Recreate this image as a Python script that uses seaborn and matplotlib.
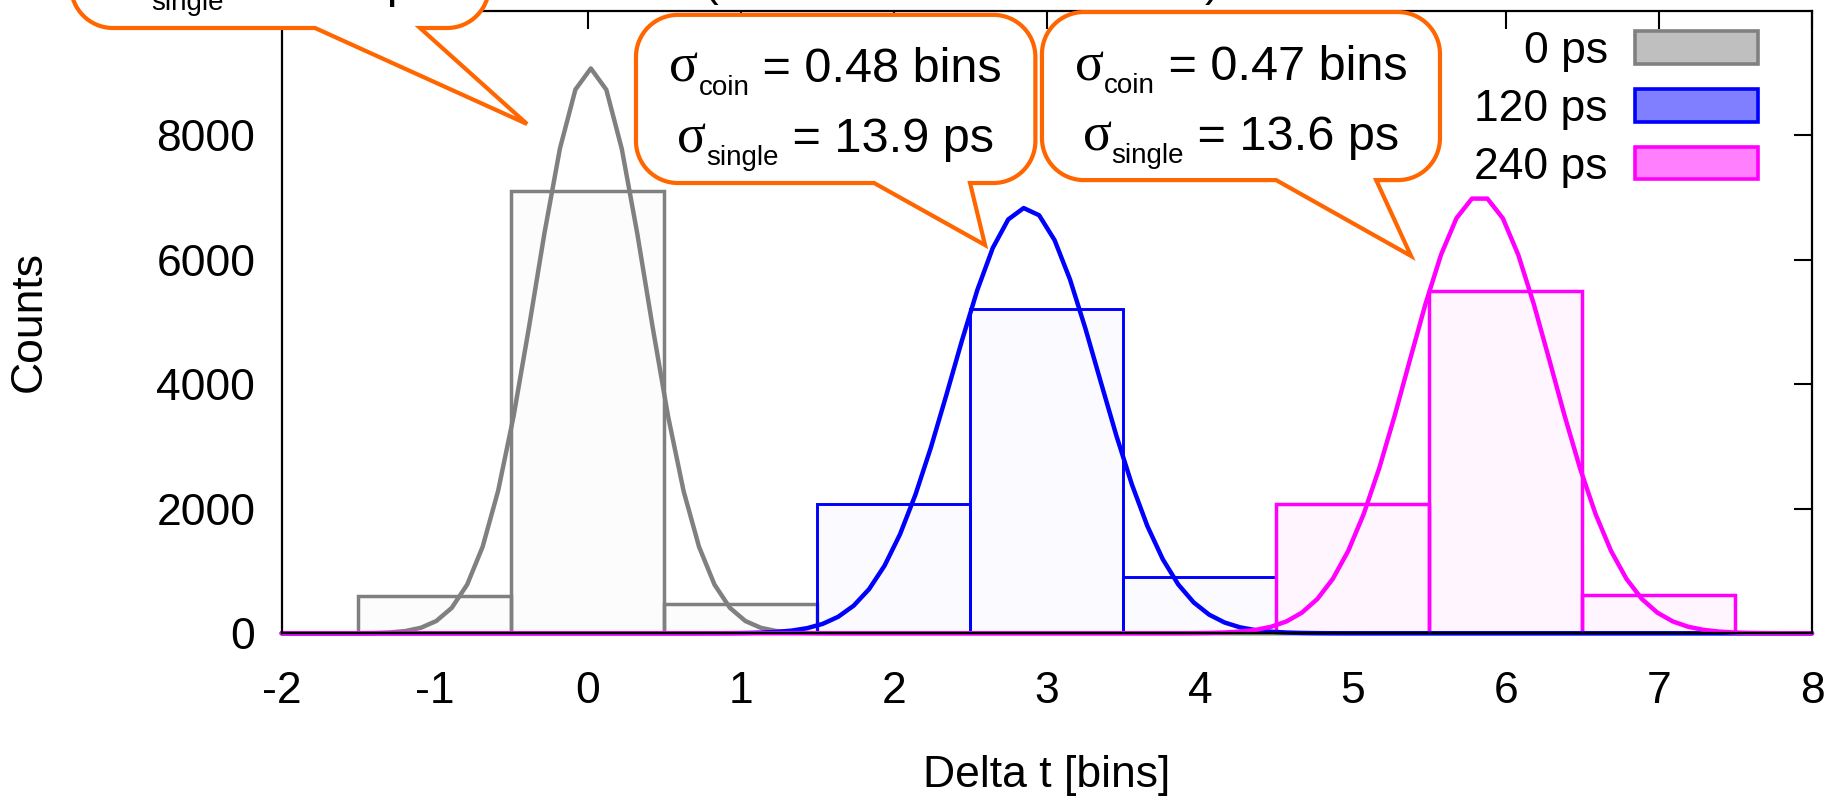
import numpy as np
import pandas as pd
import matplotlib
matplotlib.use("Agg")
import matplotlib.pyplot as plt
import seaborn as sns
from matplotlib.path import Path
from matplotlib.patches import PathPatch, Patch
from matplotlib.transforms import IdentityTransform

# ---------------- data ----------------
series_labels = ["0 ps", "120 ps", "240 ps"]
bin_centers_0ps = [-1, 0, 1]
counts_0ps = [600, 7100, 470]
bin_centers_120ps = [2, 3, 4]
counts_120ps = [2080, 5200, 900]
bin_centers_240ps = [5, 6, 7]
counts_240ps = [2080, 5500, 620]

# Gaussian fit parameters (amplitude, mean [bins], sigma [bins])
fit_amplitude = [9070, 6830, 7020]
fit_mean = [0.02, 2.86, 5.828]
fit_sigma_coin = [0.365, 0.48, 0.47]
fit_sigma_single_ps = [10.6, 13.9, 13.6]

x_ticks = [-2, -1, 0, 1, 2, 3, 4, 5, 6, 7, 8]
y_ticks = [0, 2000, 4000, 6000, 8000]

# ---------------- style ----------------
sns.set_theme(style="white")
plt.rcParams["font.family"] = ["Liberation Sans", "DejaVu Sans"]
plt.rcParams["text.color"] = "black"
plt.rcParams["axes.labelcolor"] = "black"
plt.rcParams["xtick.color"] = "black"
plt.rcParams["ytick.color"] = "black"

colors = ["#808080", "#0000ff", "#ff00ff"]
orange = "#ff6600"
FS = 32

fig = plt.figure(figsize=(18.44, 7.98), dpi=100)
ax = fig.add_axes([0.15277, 0.20639, 0.82988, 0.78045])

centers_list = [bin_centers_0ps, bin_centers_120ps, bin_centers_240ps]
counts_list = [counts_0ps, counts_120ps, counts_240ps]
bar_lw = [2.5, 2.1, 2.5]
bar_alpha = [0.02, 0.015, 0.04]

for centers, counts, col, lw, al in zip(centers_list, counts_list, colors, bar_lw, bar_alpha):
    edges = [c - 0.5 for c in centers] + [centers[-1] + 0.5]
    sns.histplot(x=centers, weights=counts, bins=edges, ax=ax,
                 facecolor=matplotlib.colors.to_rgba(col, al),
                 edgecolor=col, linewidth=lw, zorder=2)

xs = np.linspace(-2, 8, 100)
for A, mu, sg, col in zip(fit_amplitude, fit_mean, fit_sigma_coin, colors):
    ys = A * np.exp(-(xs - mu) ** 2 / (2 * sg ** 2))
    df = pd.DataFrame({"x": xs, "y": ys})
    sns.lineplot(data=df, x="x", y="y", ax=ax, color=col, linewidth=3.2,
                 sort=False, zorder=3, clip_on=False)

ax.set_xlim(-2, 8)
ax.set_ylim(0, 10000)
ax.set_xticks(x_ticks)
ax.set_xticklabels([str(t) for t in x_ticks])
ax.set_yticks(y_ticks)
ax.set_yticklabels([str(t) for t in y_ticks])
ax.tick_params(axis="both", direction="in", length=13, width=1.5,
               top=True, right=True, labelsize=FS, colors="black")
ax.tick_params(axis="x", pad=27)
ax.tick_params(axis="y", pad=19)
for s in ax.spines.values():
    s.set_visible(True)
    s.set_color("black")
    s.set_linewidth(1.6)
    s.set_zorder(4)

ax.set_xlabel("Delta t [bins]", fontsize=FS)
ax.set_ylabel("Counts", fontsize=FS)
ax.xaxis.set_label_coords(0.5, -0.229)
ax.xaxis.label.set_va("center")
ax.yaxis.set_label_coords(-0.165, 0.5)
ax.yaxis.label.set_va("center")

# ---------------- legend ----------------
handles = [Patch(facecolor=matplotlib.colors.to_rgba(c, 0.5), edgecolor=c,
                 linewidth=2.6, label=l) for c, l in zip(colors, series_labels)]
leg = ax.legend(handles=handles, loc="upper right", bbox_to_anchor=(0.9647, 0.967),
                frameon=False, markerfirst=False, fontsize=FS,
                handlelength=2.77, handleheight=0.74, handletextpad=0.61,
                labelspacing=0.38, borderaxespad=0, borderpad=0)
leg.set_zorder(6)

# ---------------- callouts ----------------
box_x0 = [-3.377, 0.315, 2.968]
box_x1 = [-0.645, 2.925, 5.569]
box_y0 = [9719, 7230, 7277]
box_y1 = [12417, 9930, 9975]
tail_x0 = [-1.782, 1.871, 4.498]
tail_x1 = [-1.096, 2.498, 5.152]
tip_x = [-0.397, 2.596, 5.380]
tip_y = [8178, 6234, 6058]
line1_y = [11341, 8852, 8884]
line2_y = [10217, 7728, 7760]


def bubble_path(x0, y0, x1, y1, bx0, bx1, tip, r):
    k = 0.5523 * r
    verts, codes = [], []

    def mv(p):
        verts.append(p); codes.append(Path.MOVETO)

    def ln(p):
        verts.append(p); codes.append(Path.LINETO)

    def cv(c1, c2, p):
        verts.extend([c1, c2, p]); codes.extend([Path.CURVE4] * 3)

    mv((bx1, y0))
    ln((x1 - r, y0))
    cv((x1 - r + k, y0), (x1, y0 + r - k), (x1, y0 + r))
    ln((x1, y1 - r))
    cv((x1, y1 - r + k), (x1 - r + k, y1), (x1 - r, y1))
    ln((x0 + r, y1))
    cv((x0 + r - k, y1), (x0, y1 - r + k), (x0, y1 - r))
    ln((x0, y0 + r))
    cv((x0, y0 + r - k), (x0 + r - k, y0), (x0 + r, y0))
    ln((bx0, y0))
    ln(tip)
    ln((bx1, y0))
    verts.append((bx1, y0)); codes.append(Path.CLOSEPOLY)
    return Path(verts, codes)


renderer = fig.canvas.get_renderer()
ID = IdentityTransform()


def sigma_line(cx_px, base_px, sub, rest):
    parts = [("σ", dict(fontfamily=["Liberation Serif", "DejaVu Serif"], fontsize=39), 0),
             (sub, dict(fontsize=20), -13),
             (" = " + rest, dict(fontsize=35), 0)]
    items = []
    for s, kw, dy in parts:
        t = ax.text(0, 0, s, transform=ID, ha="left", va="baseline",
                    zorder=8, clip_on=False, **kw)
        items.append((t, dy, t.get_window_extent(renderer).width))
    x = cx_px - sum(w for _, _, w in items) / 2
    for t, dy, w in items:
        t.set_position((x, base_px + dy))
        x += w


T = ax.transData
for i in range(3):
    (px0, py0) = T.transform((box_x0[i], box_y0[i]))
    (px1, py1) = T.transform((box_x1[i], box_y1[i]))
    bx0 = T.transform((tail_x0[i], box_y0[i]))[0]
    bx1 = T.transform((tail_x1[i], box_y0[i]))[0]
    tip = tuple(T.transform((tip_x[i], tip_y[i])))
    path = bubble_path(px0, py0, px1, py1, bx0, bx1, tip, 42)
    patch = PathPatch(path, facecolor="white", edgecolor=orange, linewidth=3.0,
                      transform=ID, zorder=7, clip_on=False, joinstyle="miter")
    ax.add_artist(patch)
    cx = (px0 + px1) / 2
    b1 = T.transform((0, line1_y[i]))[1]
    b2 = T.transform((0, line2_y[i]))[1]
    sigma_line(cx, b1, "coin", f"{fit_sigma_coin[i]:.2f} bins")
    sigma_line(cx, b2, "single", f"{fit_sigma_single_ps[i]:.1f} ps")

# cut-off title (only the parentheses' descenders are visible)
fig.text(711 / 1844, 1.005, "(", ha="center", va="baseline", fontsize=FS)
fig.text(1212 / 1844, 1.005, ")", ha="center", va="baseline", fontsize=FS)

fig.savefig("out.png", dpi=100)
